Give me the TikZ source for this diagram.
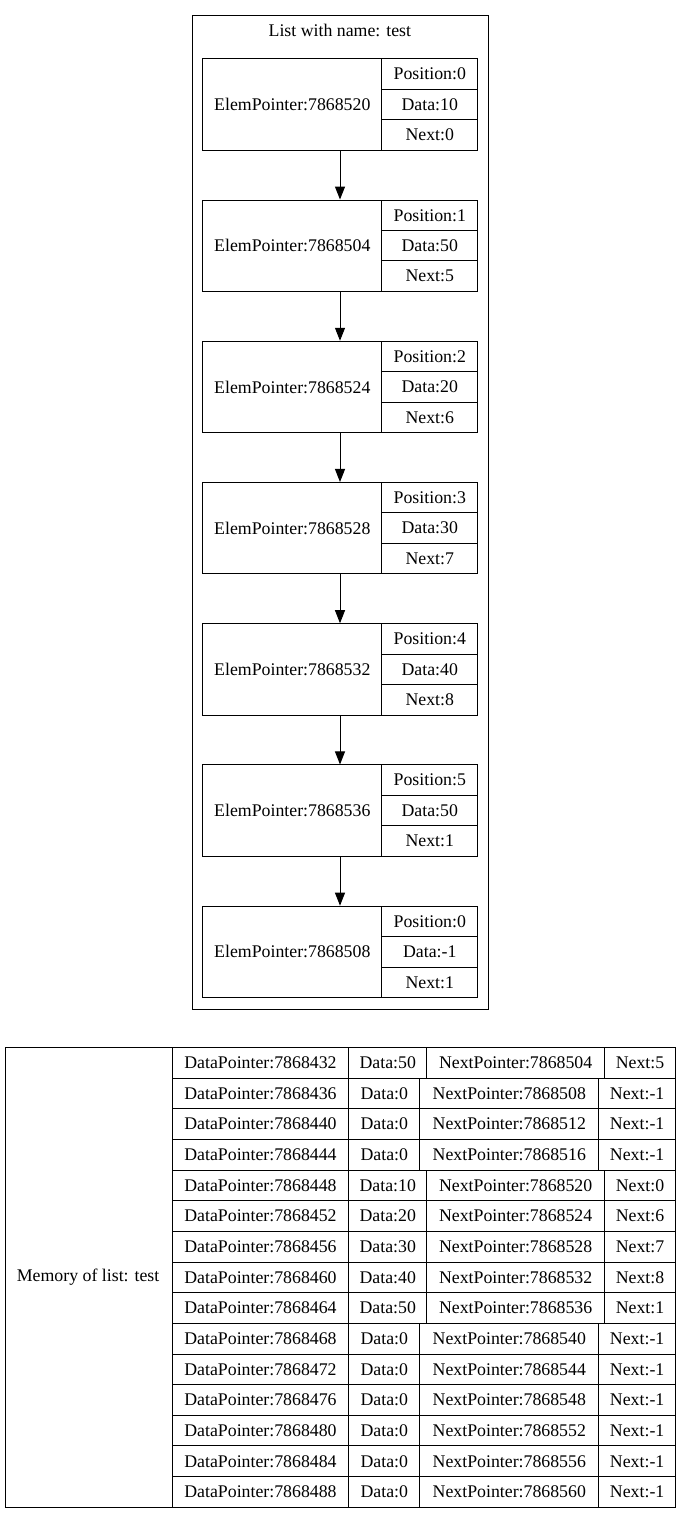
\documentclass[tikz,border=0pt]{standalone}
\usepackage{fontspec}
\setmainfont{Liberation Serif}
\newfontfamily\gvfont{Liberation Serif}
\usetikzlibrary{arrows.meta}
\begin{document}
\begin{tikzpicture}[x=1pt,y=-1pt,
  every node/.style={font=\gvfont\fontsize{17.8}{20}\selectfont},
  cell/.style={draw, line width=1pt, inner sep=0pt, anchor=north west},
  rec/.style={inner sep=0pt, anchor=north west, minimum width=275pt, minimum height=91.4pt},
  arr/.style={line width=1pt, -{Triangle[length=13pt,width=10pt]}}]
\useasboundingbox (0,0) rectangle (680,1513);
% cluster
\node[cell, minimum width=295.7pt, minimum height=994pt] (cl) at (192,15) {};
\node (title) at (339.85,30) {List with name: test};
% list records
\foreach \i/\ptr/\pos/\dat/\nxt in {0/7868520/0/10/0, 1/7868504/1/50/5, 2/7868524/2/20/6, 3/7868528/3/30/7, 4/7868532/4/40/8, 5/7868536/5/50/1, 6/7868508/0/-1/1} {
  \pgfmathsetmacro\ty{58.3+141.23*\i}
  \pgfmathsetmacro\tyb{\ty+30.47}
  \pgfmathsetmacro\tyc{\ty+60.94}
  \node[rec] (n\i) at (202.3,\ty) {};
  \node[cell, minimum width=179pt, minimum height=91.4pt] (p\i) at (202.3,\ty) {ElemPointer:\ptr};
  \node[cell, minimum width=96pt, minimum height=30.47pt] (pos\i) at (381.3,\ty) {Position:\pos};
  \node[cell, minimum width=96pt, minimum height=30.47pt] (dat\i) at (381.3,\tyb) {Data:\dat};
  \node[cell, minimum width=96pt, minimum height=30.47pt] (nxt\i) at (381.3,\tyc) {Next:\nxt};
}
\foreach \i [evaluate=\i as \j using int(\i+1)] in {0,...,5}
  \draw[arr] (n\i.south) -- (n\j.north);
% memory table
\node[cell, line width=1.3pt, minimum width=670.5pt, minimum height=459.7pt] (mem) at (4.5,1047) {};
\node (memlbl) at (88.1,1276.85) {Memory of list: test};
\foreach \rr/\dptr/\dval/\nptr/\nval/\colA/\colB in {1/7868432/50/7868504/5/426.3/604,
  2/7868436/0/7868508/-1/419.3/598.3,
  3/7868440/0/7868512/-1/419.3/598.3,
  4/7868444/0/7868516/-1/419.3/598.3,
  5/7868448/10/7868520/0/426.3/604,
  6/7868452/20/7868524/6/426.3/604,
  7/7868456/30/7868528/7/426.3/604,
  8/7868460/40/7868532/8/426.3/604,
  9/7868464/50/7868536/1/426.3/604,
  10/7868468/0/7868540/-1/419.3/598.3,
  11/7868472/0/7868544/-1/419.3/598.3,
  12/7868476/0/7868548/-1/419.3/598.3,
  13/7868480/0/7868552/-1/419.3/598.3,
  14/7868484/0/7868556/-1/419.3/598.3,
  15/7868488/0/7868560/-1/419.3/598.3} {
  \pgfmathsetmacro\rowy{1047+30.65*(\rr-1)}
  \pgfmathsetmacro\wA{\colA-348.3}
  \pgfmathsetmacro\wB{\colB-\colA}
  \pgfmathsetmacro\wC{675-\colB}
  \node[cell, minimum width=176.6pt, minimum height=30.65pt] (dp\rr) at (171.7,\rowy) {DataPointer:\dptr};
  \node[cell, minimum width=\wA pt, minimum height=30.65pt] (dv\rr) at (348.3,\rowy) {Data:\dval};
  \node[cell, minimum width=\wB pt, minimum height=30.65pt] (np\rr) at (\colA,\rowy) {NextPointer:\nptr};
  \node[cell, minimum width=\wC pt, minimum height=30.65pt] (nv\rr) at (\colB,\rowy) {Next:\nval};
}
\end{tikzpicture}
\end{document}
